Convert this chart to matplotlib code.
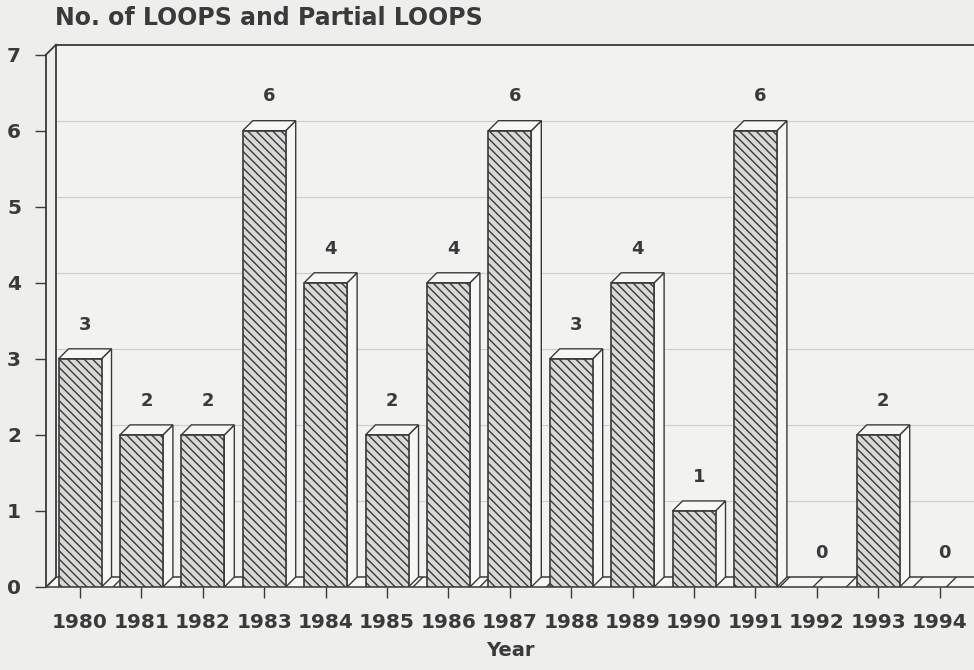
import matplotlib
matplotlib.use("Agg")
import matplotlib.pyplot as plt
from matplotlib.patches import Polygon, Rectangle

years = ["1980", "1981", "1982", "1983", "1984", "1985", "1986", "1987",
         "1988", "1989", "1990", "1991", "1992", "1993", "1994"]
loops = [3, 2, 2, 6, 4, 2, 4, 6, 3, 4, 1, 6, 0, 2, 0]
yticks = [0, 1, 2, 3, 4, 5, 6, 7]

plt.rcParams['font.family'] = ['DejaVu Sans']
plt.rcParams['hatch.linewidth'] = 1.0
plt.rcParams['hatch.color'] = '#444444'

BG = '#eeeeec'
INK = '#3a3a3a'

fig = plt.figure(figsize=(9.74, 6.70), dpi=100, facecolor=BG)
ax = fig.add_axes([46/974, 83/670, 928/974, 543/670])
ax.set_facecolor(BG)

x0 = -0.554
x1 = 14.56
ymax = 7.14
dx = 10/61.4
dy = 10/76.0
w = 0.70

ax.set_xlim(x0, x1)
ax.set_ylim(0, ymax)
for s in ax.spines.values():
    s.set_visible(False)

# back wall
ax.add_patch(Polygon([(x0+dx, dy), (x1+1, dy), (x1+1, 7+dy), (x0+dx, 7+dy)],
                     closed=True, facecolor='#f2f2f0', edgecolor='none', zorder=0))
# grid lines on back wall
for v in yticks[1:-1]:
    ax.plot([x0+dx, x1+1], [v+dy, v+dy], color='#cdcdcd', lw=0.8, zorder=1, clip_on=False)

# frame lines
lk = dict(color=INK, lw=1.3, zorder=2, clip_on=False)
ax.plot([x0, x0], [0, 7], **lk)
ax.plot([x0, x0+dx], [7, 7+dy], **lk)
ax.plot([x0+dx, x1+1], [7+dy, 7+dy], **lk)
ax.plot([x0+dx, x0+dx], [dy, 7+dy], **lk)

# floor
ax.add_patch(Polygon([(x0, 0), (x1+1, 0), (x1+1+dx, dy), (x0+dx, dy)], closed=True,
                     facecolor='#f6f6f4', edgecolor=INK, lw=1.1, hatch='/', zorder=2,
                     clip_on=False))

# bars
for i, v in enumerate(loops):
    l, r = i - w/2, i + w/2
    if v > 0:
        ax.add_patch(Polygon([(r, 0), (r+dx, dy), (r+dx, v+dy), (r, v)], closed=True,
                             facecolor='#f7f7f5', edgecolor=INK, lw=1.0, zorder=3))
        ax.add_patch(Polygon([(l, v), (r, v), (r+dx, v+dy), (l+dx, v+dy)], closed=True,
                             facecolor='#f7f7f5', edgecolor=INK, lw=1.0, zorder=3))
        ax.add_patch(Rectangle((l, 0), w, v, facecolor='#d8d8d6', edgecolor=INK,
                               lw=1.2, hatch='\\\\\\\\', zorder=4))
    ax.text(i + dx/2, v + dy + 0.2, str(v), ha='center', va='bottom',
            fontsize=13, fontweight='bold', color=INK, zorder=5)

ax.set_xticks(range(len(years)))
ax.set_xticklabels(years, fontsize=14.5, fontweight='bold', color=INK)
ax.set_yticks(yticks)
ax.set_yticklabels([str(t) for t in yticks], fontsize=14.5, fontweight='bold', color=INK)
ax.tick_params(axis='both', length=8, width=1.0, color=INK, direction='out')
ax.tick_params(axis='x', pad=11)
ax.tick_params(axis='y', pad=10)

ax.set_xlabel('Year', fontsize=14, fontweight='bold', color=INK, labelpad=6)
fig.text(55/974, 1 - 18/670, 'No. of LOOPS and Partial LOOPS', ha='left', va='center',
         fontsize=17, fontweight='bold', color=INK)

fig.savefig('out.png', dpi=100, facecolor=BG)
